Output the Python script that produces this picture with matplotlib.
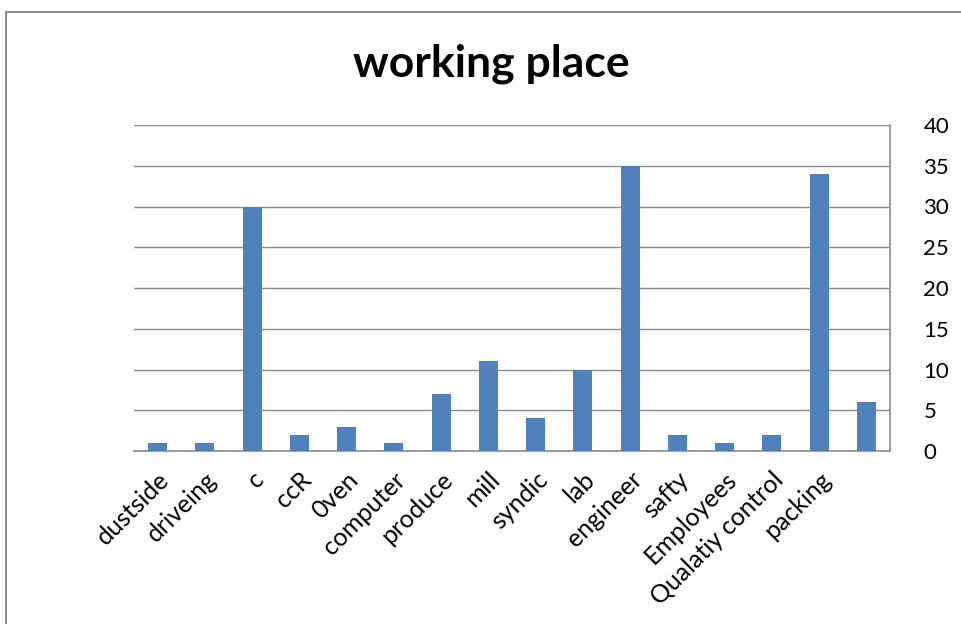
import matplotlib.pyplot as plt
import numpy as np

plt.rcParams['font.family'] = ['Lato', 'DejaVu Sans']

categories = ['dustside', 'driveing', 'c', 'ccR', '0ven', 'computer', 'produce',
              'mill', 'syndic', 'lab', 'engineer', 'safty', 'Employees',
              'Qualatiy control', 'packing', '']
values = [1, 1, 30, 2, 3, 1, 7, 11, 4, 10, 35, 2, 1, 2, 34, 6]

fig = plt.figure(figsize=(9.61, 6.24), dpi=100)
# chart frame
fig.patches.append(plt.Rectangle((6 / 961, -0.1), 1.1, 1 - 12 / 624 + 0.1,
                                 transform=fig.transFigure, fill=False,
                                 edgecolor='#8c8c8c', linewidth=1.5))

ax = fig.add_axes([134 / 961, 1 - 451 / 624, 756 / 961, 326 / 624])
x = np.arange(len(categories))
ax.bar(x, values, width=0.4, color='#4f81bd', zorder=3)

ax.set_xlim(-0.5, len(categories) - 0.5)
ax.set_ylim(0, 40)
ax.set_yticks(range(0, 41, 5))
ax.yaxis.tick_right()
ax.tick_params(axis='y', length=0, pad=24, labelsize=16)
ax.tick_params(axis='x', length=0, pad=12)
ax.grid(axis='y', color='#8c8c8c', linewidth=1, zorder=0)

ax.set_xticks(x)
ax.set_xticklabels(categories, rotation=45, ha='right', rotation_mode='anchor',
                   fontsize=18)

for side in ['left', 'top']:
    ax.spines[side].set_visible(False)
for side in ['right', 'bottom']:
    ax.spines[side].set_color('#8c8c8c')
    ax.spines[side].set_linewidth(1.2)

fig.text(491 / 961, 1 - 64 / 624, 'working place', ha='center', va='center',
         fontsize=32, fontweight='bold')

fig.savefig('out.png', dpi=100)
